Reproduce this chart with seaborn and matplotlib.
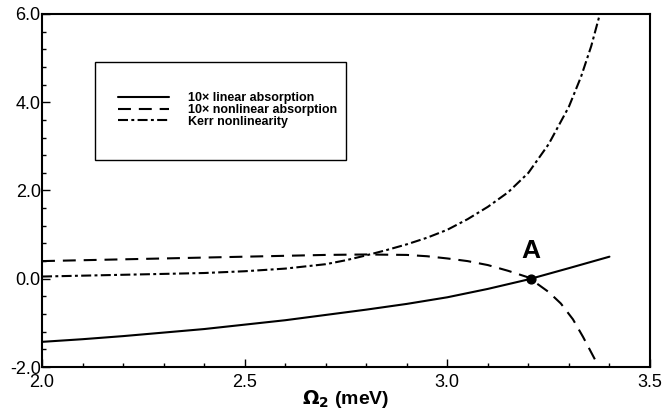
import matplotlib
matplotlib.use("Agg")
import matplotlib.pyplot as plt
import matplotlib.transforms as mtransforms
from matplotlib.patches import Rectangle
from matplotlib.ticker import MultipleLocator, FormatStrFormatter
import seaborn as sns
import pandas as pd

# Dữ liệu
x_lin = [2.0, 2.1, 2.2, 2.3, 2.4, 2.5, 2.6, 2.7, 2.8, 2.9, 3.0, 3.1, 3.2, 3.3, 3.4]
y_lin = [-1.43, -1.37, -1.30, -1.22, -1.14, -1.04, -0.94, -0.82, -0.70, -0.57, -0.42, -0.23, -0.015, 0.24, 0.50]

x_nonlin = [2.0, 2.1, 2.2, 2.3, 2.4, 2.5, 2.6, 2.7, 2.8, 2.9, 2.95, 3.0, 3.05, 3.1, 3.15,
            3.2, 3.25, 3.28, 3.31, 3.335, 3.37]
y_nonlin = [0.40, 0.42, 0.44, 0.46, 0.48, 0.50, 0.52, 0.54, 0.55, 0.54, 0.51, 0.46, 0.40, 0.31, 0.18,
            0.03, -0.30, -0.56, -0.92, -1.32, -1.93]

x_kerr = [2.0, 2.1, 2.2, 2.3, 2.4, 2.5, 2.6, 2.7, 2.75, 2.8, 2.85, 2.9, 2.95, 3.0, 3.05, 3.1, 3.15,
          3.2, 3.25, 3.3, 3.33, 3.355, 3.375, 3.38]
y_kerr = [0.05, 0.07, 0.09, 0.11, 0.13, 0.17, 0.23, 0.33, 0.42, 0.53, 0.65, 0.78, 0.93, 1.11, 1.35, 1.63, 1.96,
          2.40, 3.05, 3.90, 4.58, 5.27, 5.95, 6.10]

labels = ["10\u00d7 linear absorption", "10\u00d7 nonlinear absorption", "Kerr nonlinearity"]

point_a = (3.206, 0.0)

df = pd.concat([
    pd.DataFrame({"x": x_lin, "y": y_lin, "series": labels[0]}),
    pd.DataFrame({"x": x_nonlin, "y": y_nonlin, "series": labels[1]}),
    pd.DataFrame({"x": x_kerr, "y": y_kerr, "series": labels[2]}),
])

sns.set_style("ticks")
plt.rcParams["font.family"] = ["Liberation Sans", "DejaVu Sans"]
plt.rcParams["axes.unicode_minus"] = False
plt.rcParams["text.color"] = "black"
plt.rcParams["xtick.color"] = "black"
plt.rcParams["ytick.color"] = "black"
plt.rcParams["axes.labelcolor"] = "black"

fig = plt.figure(figsize=(6.65, 4.19), dpi=100)
ax = fig.add_axes([0.0632, 0.1241, 0.9142, 0.8425])

sns.lineplot(data=df, x="x", y="y", style="series", style_order=labels,
             dashes={labels[0]: "", labels[1]: (6.2, 3.8), labels[2]: (4.8, 1.6, 1.4, 1.6)},
             color="black", linewidth=1.5, sort=False, ax=ax)

ax.scatter([point_a[0]], [point_a[1]], s=40, color="black", zorder=5)
ax.text(point_a[0], 0.35, "A", fontsize=19, fontweight="bold", ha="center", va="bottom", color="black")

ax.set_xlim(2.0, 3.5)
ax.set_ylim(-2.0, 6.0)
ax.xaxis.set_major_locator(MultipleLocator(0.5))
ax.xaxis.set_minor_locator(MultipleLocator(0.1))
ax.yaxis.set_major_locator(MultipleLocator(2.0))
ax.yaxis.set_minor_locator(MultipleLocator(0.4))
ax.xaxis.set_major_formatter(FormatStrFormatter("%.1f"))
ax.yaxis.set_major_formatter(FormatStrFormatter("%.1f"))
ax.tick_params(which="both", direction="in", labelsize=13, width=1.0, color="black", labelcolor="black")
ax.tick_params(which="major", length=6)
ax.tick_params(which="minor", length=3)
ax.tick_params(axis="y", pad=1)
ax.tick_params(axis="x", pad=5)
for s in ax.spines.values():
    s.set_linewidth(1.5)
    s.set_color("black")

ax.set_xlabel(r"$\mathbf{\Omega_2}$ (meV)", fontsize=14, fontweight="bold", labelpad=-2, color="black")
ax.set_ylabel("")

# khung chú thích
ax.add_patch(Rectangle((0.087, 0.586), 0.413, 0.278, transform=ax.transAxes,
                       fill=False, edgecolor="black", linewidth=1.0, zorder=4))
handles, labs = ax.get_legend_handles_labels()
leg = ax.legend(handles, labs, loc="center left", bbox_to_anchor=(0.125, 0.728),
                frameon=False, prop={"size": 9, "weight": "bold"},
                handlelength=4.1, handletextpad=1.5, labelspacing=-0.02, borderpad=0, borderaxespad=0)
for t in leg.get_texts():
    t.set_color("black")

# nhích nhãn -2.0 lên một chút cho khỏi chạm nhãn 2.0 của trục x
fig.canvas.draw()
low = ax.yaxis.get_major_ticks()[0].label1
low.set_transform(low.get_transform() + mtransforms.ScaledTranslation(0, 3 / 72, fig.dpi_scale_trans))

fig.savefig("out.png", dpi=100)
